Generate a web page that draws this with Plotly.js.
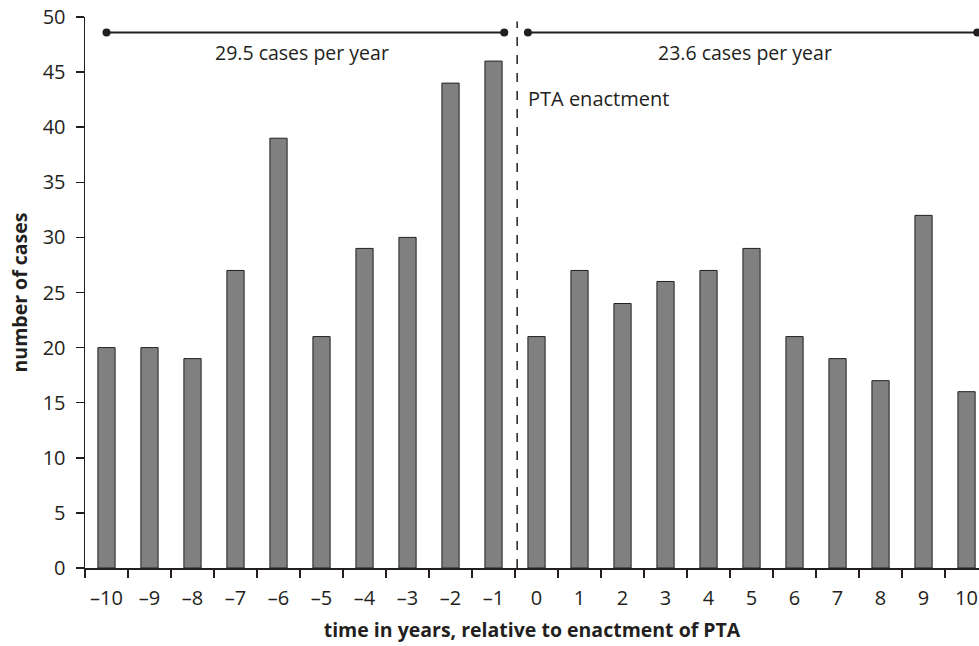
<!DOCTYPE html>
<html>
<head>
<meta charset="utf-8">
<script src="https://cdn.plot.ly/plotly-3.0.1.min.js"></script>
<style>html,body{margin:0;padding:0;background:#fff;}#chart{width:979px;height:646px;}</style>
</head>
<body>
<div id="chart"></div>
<script>
const years = [-10,-9,-8,-7,-6,-5,-4,-3,-2,-1,0,1,2,3,4,5,6,7,8,9,10];
const cases = [20,20,19,27,39,21,29,30,44,46,21,27,24,26,27,29,21,19,17,32,16];
const tickLabels = years.map(v => v < 0 ? '\u2013' + Math.abs(v) : String(v));
const boundaries = years.map(v => v - 0.5).concat([years[years.length-1] + 0.5]);
const beforeRate = '29.5 cases per year';
const afterRate = '23.6 cases per year';
const enactLabel = 'PTA enactment';
const enactX = -0.45;
const periodY = 48.6;
const beforeSpan = [-10, -0.75];
const afterSpan = [-0.2, 10.25];

const FONT = '"Open Sans", "Noto Sans", sans-serif';
const INK = '#231f20';

const traces = [
  {
    type: 'bar', x: years, y: cases, width: 0.4,
    marker: {color: '#808080', line: {color: INK, width: 1}},
    hoverinfo: 'skip', showlegend: false
  },
  {
    type: 'scatter', mode: 'lines+markers', x: beforeSpan, y: [periodY, periodY],
    line: {color: INK, width: 2}, marker: {color: INK, size: 8},
    cliponaxis: false, showlegend: false, hoverinfo: 'skip'
  },
  {
    type: 'scatter', mode: 'lines+markers', x: afterSpan, y: [periodY, periodY],
    line: {color: INK, width: 2}, marker: {color: INK, size: 8},
    cliponaxis: false, showlegend: false, hoverinfo: 'skip'
  }
];

const layout = {
  width: 979, height: 646,
  margin: {l: 85, r: 0, t: 17, b: 78},
  paper_bgcolor: '#fff', plot_bgcolor: '#fff',
  font: {family: FONT, color: INK, size: 20},
  showlegend: false,
  xaxis: {
    range: [-10.5, 10.29],
    tickvals: years, ticktext: tickLabels,
    ticks: '', showgrid: false, zeroline: false,
    showline: true, linecolor: INK, linewidth: 1.5,
    tickfont: {size: 20, family: FONT, color: INK},
    ticklabelstandoff: 11,
    minor: {tickvals: boundaries, ticks: 'outside', ticklen: 8, tickcolor: INK, tickwidth: 1.5, showgrid: false},
    title: {text: '<b>time in years, relative to enactment of PTA</b>', font: {size: 19.5, family: FONT, color: INK}, standoff: 14}
  },
  yaxis: {
    range: [0, 50], dtick: 5, tick0: 0,
    ticks: 'outside', ticklen: 8, tickcolor: INK, tickwidth: 1.5,
    showgrid: false, zeroline: false,
    showline: true, linecolor: INK, linewidth: 1.5,
    tickfont: {size: 20, family: FONT, color: INK},
    ticklabelstandoff: 6,
    title: {text: '<b>number of cases</b>', font: {size: 19.5, family: FONT, color: INK}, standoff: 10}
  },
  shapes: [
    {type: 'line', xref: 'x', yref: 'y', x0: enactX, x1: enactX, y0: 0, y1: 49.6,
     line: {color: INK, width: 1.5, dash: 'dash'}}
  ],
  annotations: [
    {x: -5.45, y: 46.8, xref: 'x', yref: 'y', text: beforeRate, showarrow: false,
     font: {size: 19.5, family: FONT, color: INK}},
    {x: 4.85, y: 46.8, xref: 'x', yref: 'y', text: afterRate, showarrow: false,
     font: {size: 19.5, family: FONT, color: INK}},
    {x: -0.24, y: 42.6, xref: 'x', yref: 'y', text: enactLabel, showarrow: false, xanchor: 'left',
     font: {size: 20, family: FONT, color: INK}}
  ]
};

Plotly.newPlot('chart', traces, layout, {staticPlot: true, displayModeBar: false});
</script>
</body>
</html>
